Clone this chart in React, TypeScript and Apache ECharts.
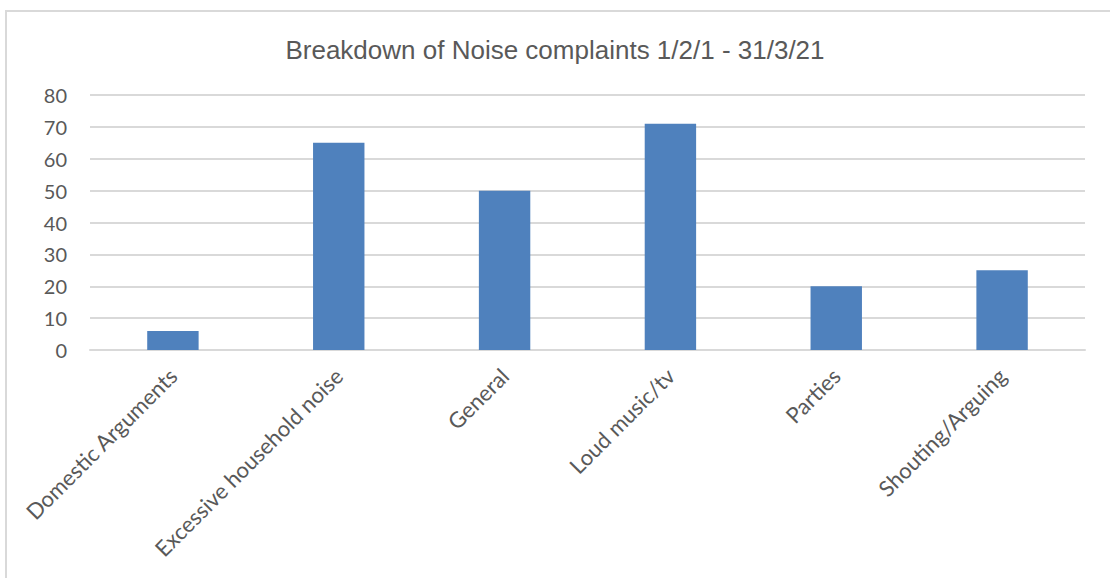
import React, { useEffect, useRef } from "react";
import * as echarts from "echarts";

const titleText = "Breakdown of Noise complaints 1/2/1 - 31/3/21";
const categories = [
  "Domestic Arguments",
  "Excessive household noise",
  "General",
  "Loud music/tv",
  "Parties",
  "Shouting/Arguing",
];
const values = [6, 65, 50, 71, 20, 25];
const yMin = 0;
const yMax = 80;
const yInterval = 10;

export default function App() {
  const ref = useRef<HTMLDivElement>(null);
  useEffect(() => {
    if (!ref.current) return;
    const chart = echarts.init(ref.current, null, { renderer: "svg" });
    chart.setOption({
      animation: false,
      backgroundColor: "#ffffff",
      title: {
        text: titleText,
        left: "center",
        top: 32,
        textStyle: {
          fontFamily: "Liberation Sans",
          fontSize: 26,
          fontWeight: "normal",
          color: "#595959",
        },
      },
      graphic: [
        {
          type: "rect",
          shape: { x: 6, y: 11, width: 1120, height: 600 },
          style: { fill: "none", stroke: "#D9D9D9", lineWidth: 2 },
          silent: true,
        },
      ],
      grid: { left: 90, right: 25, top: 95, bottom: 228, containLabel: false },
      xAxis: {
        type: "category",
        data: categories,
        axisLine: { lineStyle: { color: "#D9D9D9", width: 2 } },
        axisTick: { show: false },
        axisLabel: {
          rotate: 45,
          interval: 0,
          margin: 22,
          fontFamily: "Lato",
          fontSize: 22,
          color: "#595959",
        },
      },
      yAxis: {
        type: "value",
        min: yMin,
        max: yMax,
        interval: yInterval,
        axisLine: { show: false },
        axisTick: { show: false },
        splitLine: { lineStyle: { color: "#D9D9D9", width: 2 } },
        axisLabel: {
          margin: 23,
          fontFamily: "Lato",
          fontSize: 20,
          color: "#595959",
        },
      },
      series: [
        {
          type: "bar",
          data: values,
          barWidth: "31%",
          itemStyle: { color: "#4F81BD" },
        },
      ],
    });
    return () => chart.dispose();
  }, []);
  return (
    <div
      ref={ref}
      style={{ position: "fixed", left: 0, top: 0, width: 1110, height: 578 }}
    />
  );
}
